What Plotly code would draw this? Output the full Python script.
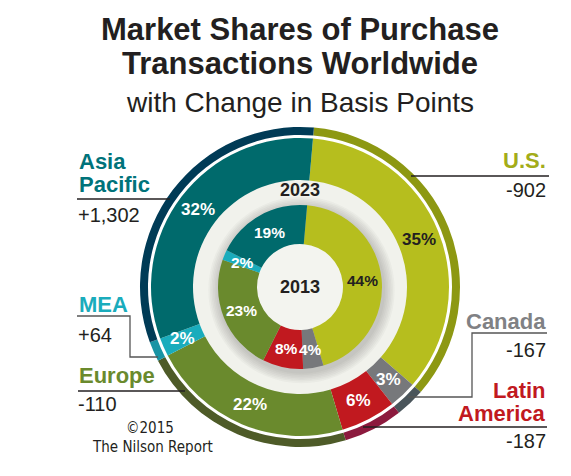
import math
import plotly.graph_objects as go

# ---------------- data ----------------
regions = ["U.S.", "Canada", "Latin America", "Europe", "MEA", "Asia Pacific"]
share_2023 = [35, 3, 6, 22, 2, 32]
share_2013 = [44, 4, 8, 23, 2, 19]
change_bp = [-902, -167, -187, -110, 64, 1302]

# ---------------- styles ----------------
main_colors = ["#B6BE1E", "#77787B", "#C1191F", "#6A8A2D", "#1AACBC", "#006A6C"]
rim_colors = ["#8D9812", "#4A555B", "#8C1A3E", "#4E5B28", "#1994A4", "#003B56"]
label_colors = ["#A3AC1A", "#808184", "#C1191F", "#6A8A2D", "#1AACBC", "#00737A"]
pct_colors = ["#231F20", "white", "white", "white", "white", "white"]

W, H = 571, 476
CX, CY = 300, 287
ROT = 5
COND = "DejaVu Sans Condensed, Liberation Sans Narrow, sans-serif"
SANS = "Liberation Sans, Arial, sans-serif"
DARK = "#231F20"


def px(x):
    return x / W


def py(y):
    return 1 - y / H


def domain(r):
    return dict(x=[px(CX - r), px(CX + r)], y=[py(CY + r), py(CY - r)])


fig = go.Figure()

rings = [
    (share_2023, rim_colors, 160, 152),
    (share_2023, main_colors, 149, 107),
    (share_2013, main_colors, 82, 43),
]
for vals, cols, r_out, r_in in rings:
    fig.add_trace(go.Pie(
        labels=regions, values=vals, sort=False, direction="clockwise",
        rotation=ROT, hole=r_in / r_out, domain=domain(r_out),
        marker=dict(colors=cols, line=dict(width=0)),
        textinfo="none", hoverinfo="label+percent", showlegend=False,
    ))

shapes = []


def circle(r, color, dx=0, dy=0):
    return dict(type="circle", xref="paper", yref="paper", layer="below",
                x0=px(CX + dx - r), x1=px(CX + dx + r),
                y0=py(CY + dy + r), y1=py(CY + dy - r),
                fillcolor=color, line=dict(width=0))


# light band behind the two donuts
shapes.append(circle(108, "#F1F2EC"))
# soft shadow around inner donut
for k in range(7, 0, -1):
    shapes.append(circle(82 + 1.6 * k, "rgba(60,60,50,0.035)", dx=1.5, dy=3))
# hole
shapes.append(circle(44, "#F3F4EF"))


def seg(pts, color=DARK, width=1.3):
    path = "M " + " L ".join(f"{px(x):.5f},{py(y):.5f}" for x, y in pts)
    return dict(type="path", xref="paper", yref="paper", path=path,
                line=dict(color=color, width=width), layer="above")


shapes += [
    seg([(77, 199), (170, 199)]),
    seg([(411, 176), (549, 176)]),
    seg([(78, 391), (185, 391)]),
    seg([(363, 427), (547, 427)]),
    seg([(77, 316), (130, 316), (130, 357), (158, 357)], color="#555555"),
    seg([(547, 333), (472, 333), (472, 397), (408, 397)], color="#555555"),
]

ann = []


def text(t, x, y, size, color=DARK, family=SANS, weight="normal", anchor="center"):
    ann.append(dict(text=t, x=px(x), y=py(y), xref="paper", yref="paper",
                    xanchor=anchor, yanchor="middle", showarrow=False,
                    font=dict(size=size, color=color, family=family, weight=weight)))


# percentage labels placed at slice mid-angles
def pct_labels(vals, r_mid, size):
    total = sum(vals)
    cum = 0
    for v, c in zip(vals, pct_colors):
        a = math.radians(ROT + 360 * (cum + v / 2) / total)
        cum += v
        text(f"{v}%", CX + r_mid * math.sin(a), CY - r_mid * math.cos(a),
             size, color=c, family=SANS, weight="bold")


pct_labels(share_2023, 128, 17)
pct_labels(share_2013, 63, 15.5)

text("2023", CX, 190, 18, weight="bold")
text("2013", CX, 287, 18, weight="bold")

# title
text("Market Shares of Purchase", 300, 29, 31, weight="bold")
text("Transactions Worldwide", 300, 64, 31, weight="bold")
text("with Change in Basis Points", 300, 102, 28)


def fmt(v):
    return ("+" if v > 0 else "-") + f"{abs(v):,}"


# region labels
text("Asia", 77, 161, 22, label_colors[5], weight="bold", anchor="left")
text("Pacific", 77, 185, 22, label_colors[5], weight="bold", anchor="left")
text(fmt(change_bp[5]), 76, 215, 20, anchor="left")
text(regions[4], 77, 304, 22, label_colors[4], weight="bold", anchor="left")
text(fmt(change_bp[4]), 76, 335, 20, anchor="left")
text(regions[3], 77, 375, 22, label_colors[3], weight="bold", anchor="left")
text(fmt(change_bp[3]), 76, 404, 20, anchor="left")
text(regions[0], 548, 160, 22, label_colors[0], weight="bold", anchor="right")
text(fmt(change_bp[0]), 548, 190, 20, anchor="right")
text(regions[1], 548, 321, 22, label_colors[1], weight="bold", anchor="right")
text(fmt(change_bp[1]), 548, 350, 20, anchor="right")
text("Latin", 548, 390, 22, label_colors[2], weight="bold", anchor="right")
text("America", 548, 413, 22, label_colors[2], weight="bold", anchor="right")
text(fmt(change_bp[2]), 548, 441, 20, anchor="right")

text("©2015", 150, 428, 15, family=COND)
text("The Nilson Report", 152, 447, 15, family=COND)

fig.update_layout(
    width=W, height=H, margin=dict(l=0, r=0, t=0, b=0),
    paper_bgcolor="white", plot_bgcolor="white",
    shapes=shapes, annotations=ann, showlegend=False,
)

fig.write_html("out.html", config={"displayModeBar": False},
               post_script="document.body.style.margin='0px';")
